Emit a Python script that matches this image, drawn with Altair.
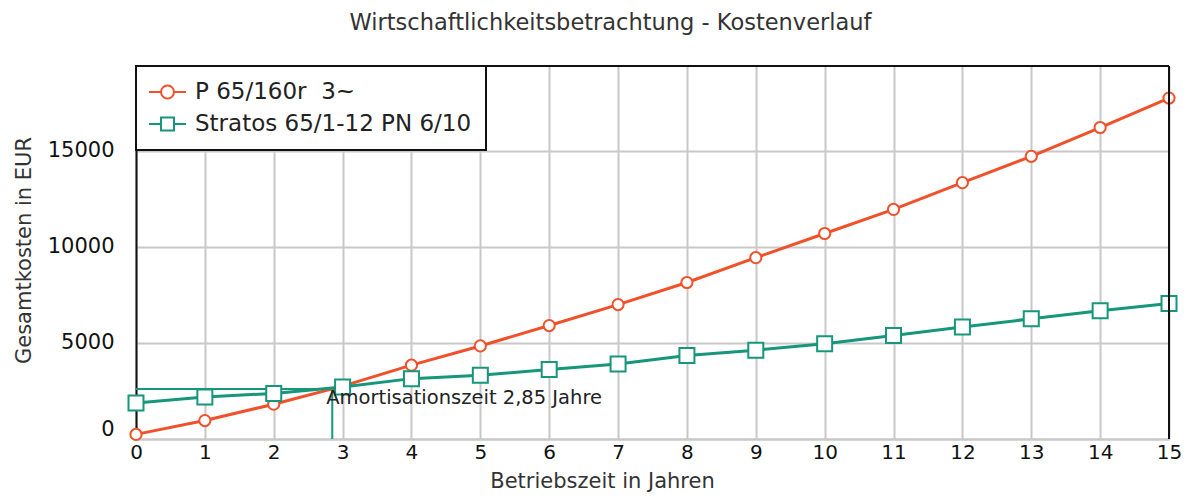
import altair as alt
import pandas as pd

# ---------------- data ----------------
years = list(range(16))
series_names = ["P 65/160r\u00a0 3~", "Stratos 65/1-12 PN 6/10"]
cost_p65 = [240, 960, 1810, 2750, 3840, 4840, 5900, 6990, 8140, 9430, 10690, 11940, 13330, 14700, 16200, 17730]
cost_stratos = [1875, 2190, 2370, 2700, 3140, 3320, 3610, 3900, 4340, 4620, 4960, 5380, 5830, 6250, 6670, 7050]
amort_year = [2.85]
amort_cost = [2600]
amort_label = ["Amortisationszeit 2,85 Jahre"]
x_ticks = list(range(16))
y_ticks = [0, 5000, 10000, 15000]
y_max = 19400

RED = "#f0502a"
GREEN = "#16967a"
FONT = "DejaVu Sans"

rows = []
for name, vals in zip(series_names, [cost_p65, cost_stratos]):
    for y, v in zip(years, vals):
        rows.append({"Jahr": y, "Kosten": v, "Pumpe": name})
df = pd.DataFrame(rows)
ann = pd.DataFrame({"Jahr": amort_year, "Kosten": amort_cost, "Label": amort_label,
                    "Start": [0], "Base": [0]})

# legend symbols: line stub + marker (custom SVG paths)
CIRCLE_SYM = "M-1.18,0H-0.09M1.09,0H2.18M-0.09,0A0.59,0.59 0 1,1 1.09,0A0.59,0.59 0 1,1 -0.09,0Z"
SQUARE_SYM = "M-1.18,0H-0.09M1.09,0H2.18M-0.09,-0.59H1.09V0.59H-0.09Z"

xscale = alt.Scale(domain=[0, 15], nice=False)
yscale = alt.Scale(domain=[0, y_max], nice=False)

xaxis = alt.Axis(values=x_ticks, format="d", grid=True, gridColor="#c8c8c8", gridWidth=2,
                 domainColor="#c8c8c8", domainWidth=2, ticks=False, labelFlush=False,
                 labelFont=FONT, labelFontSize=20, labelPadding=3, labelColor="#111",
                 title="Betriebszeit in Jahren", titleFont=FONT, titleFontSize=21,
                 titleFontWeight="normal", titleColor="#333", titleX=466, titleY=52,
                 titleBaseline="bottom")
yaxis = alt.Axis(values=y_ticks, format="d", grid=True, gridColor="#c8c8c8", gridWidth=2,
                 domainColor="#111", domainWidth=2, ticks=False, labelFlush=True,
                 labelFont=FONT, labelFontSize=21, labelPadding=22, labelColor="#111",
                 title="Gesamtkosten in EUR", titleFont=FONT, titleFontSize=21,
                 titleFontWeight="normal", titleColor="#333", titleX=-112, titleY=184,
                 titleBaseline="middle")

base = alt.Chart(df)
X = alt.X("Jahr:Q", scale=xscale, axis=xaxis)
Y = alt.Y("Kosten:Q", scale=yscale, axis=yaxis)

# amortisation guide lines
hline = alt.Chart(ann).mark_rule(color=GREEN, strokeWidth=2).encode(
    x=alt.X("Start:Q", scale=xscale), x2="Jahr:Q", y=alt.Y("Kosten:Q", scale=yscale))
vline = alt.Chart(ann).mark_rule(color=GREEN, strokeWidth=2).encode(
    x=alt.X("Jahr:Q", scale=xscale), y=alt.Y("Base:Q", scale=yscale), y2="Kosten:Q")

line_red = base.transform_filter(alt.datum.Pumpe == series_names[0]).mark_line(
    color=RED, strokeWidth=3).encode(x=X, y=Y)
line_green = base.transform_filter(alt.datum.Pumpe == series_names[1]).mark_line(
    color=GREEN, strokeWidth=3).encode(x=X, y=Y)
pts_red = base.transform_filter(alt.datum.Pumpe == series_names[0]).mark_point(
    shape="circle", size=125, filled=True, color="white", stroke=RED, strokeWidth=2,
    opacity=1).encode(x=X, y=Y)
pts_green = base.transform_filter(alt.datum.Pumpe == series_names[1]).mark_point(
    shape="square", size=225, filled=True, color="white", stroke=GREEN, strokeWidth=2,
    opacity=1).encode(x=X, y=Y)

label = alt.Chart(ann).mark_text(align="left", baseline="alphabetic", dx=-6, dy=15,
                                 font=FONT, fontSize=19.5, color="#222").encode(
    x=alt.X("Jahr:Q", scale=xscale), y=alt.Y("Kosten:Q", scale=yscale), text="Label:N")

right_border = alt.Chart(ann).mark_rule(color="#111", strokeWidth=2).encode(
    x=alt.datum(15, scale=xscale))
top_border = alt.Chart(ann).mark_rule(color="#111", strokeWidth=2).encode(
    y=alt.datum(y_max, scale=yscale))

legend_layer = base.mark_point(filled=False, opacity=0).encode(
    x=X, y=Y,
    color=alt.Color("Pumpe:N", scale=alt.Scale(domain=series_names, range=[RED, GREEN]),
                    legend=alt.Legend(title=None, orient="top-left", offset=0, padding=14,
                                      strokeColor="#111", fillColor="white",
                                      labelFont=FONT, labelFontSize=23, labelColor="#222",
                                      labelLimit=600, labelOffset=21, rowPadding=8,
                                      symbolSize=484, symbolStrokeWidth=2,
                                      symbolFillColor="white", symbolOpacity=1)),
    shape=alt.Shape("Pumpe:N", scale=alt.Scale(domain=series_names,
                                                range=[CIRCLE_SYM, SQUARE_SYM]))
)

chart = alt.layer(
    hline, vline, line_red, line_green, pts_red, pts_green, label,
    right_border, top_border, legend_layer
).properties(
    width=1033, height=373,
    padding={"left": 128, "top": 58, "right": 13, "bottom": 53},
    autosize=alt.AutoSizeParams(type="none"),
    title=alt.TitleParams("Wirtschaftlichkeitsbetrachtung - Kostenverlauf", font=FONT,
                          fontSize=22.5, fontWeight="normal", color="#333", anchor="middle",
                          frame="group", dx=-42, offset=31)
).configure_view(stroke=None).configure_legend(strokeWidth=2)

chart.save("out.html", embed_options={"renderer": "svg", "actions": False})
